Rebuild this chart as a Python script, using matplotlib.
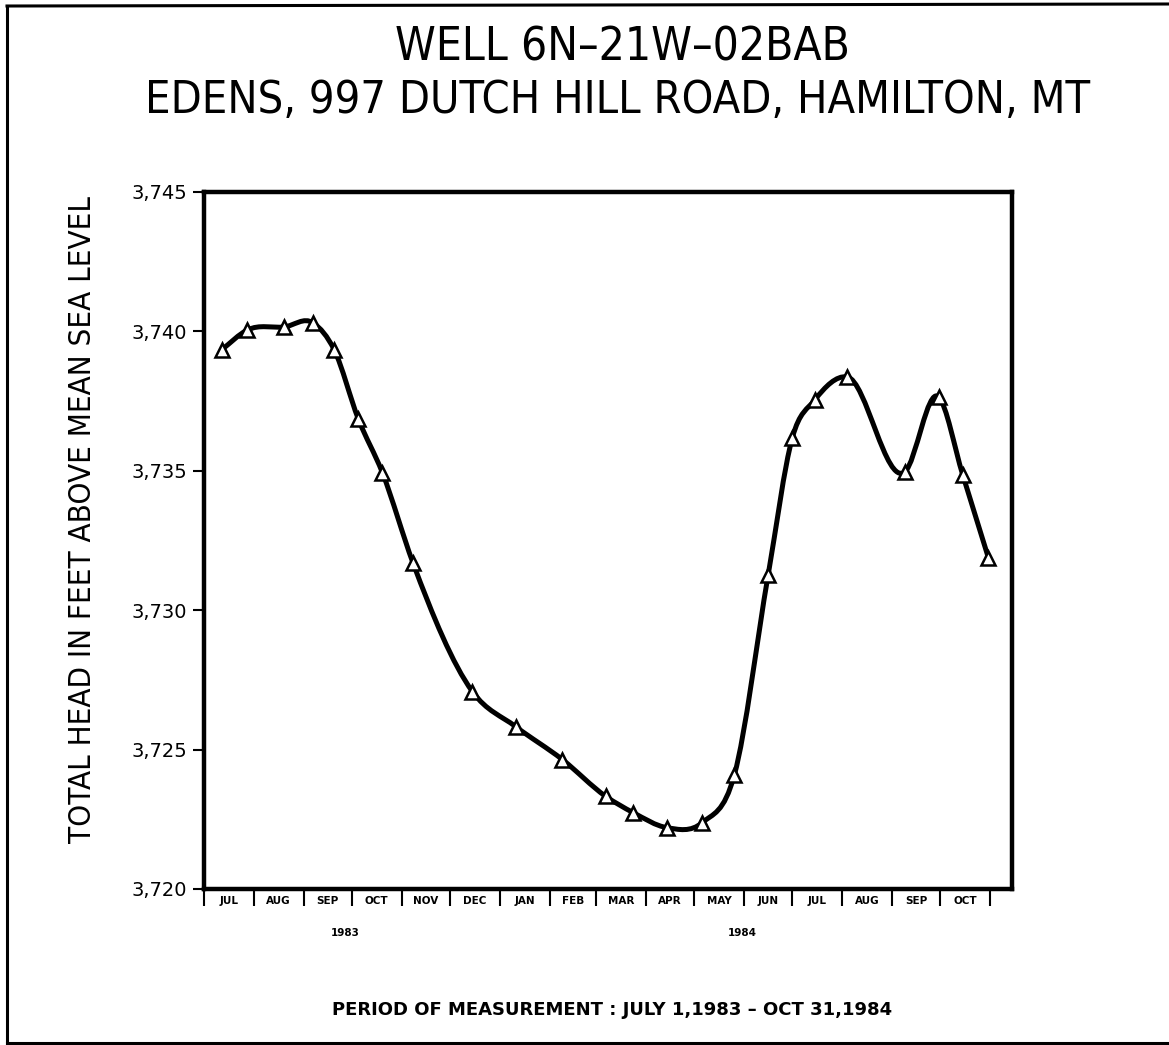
import numpy as np
import pandas as pd
import matplotlib
matplotlib.use('Agg')
import matplotlib.pyplot as plt
from matplotlib.path import Path
from matplotlib.patches import PathPatch
from matplotlib.lines import Line2D
from matplotlib.ticker import FixedLocator, FuncFormatter, NullFormatter
import matplotlib.transforms as mtransforms
from matplotlib import font_manager

# Hydrograph data
dates = ['1983-07-12', '1983-07-28', '1983-08-20', '1983-09-07', '1983-09-20',
         '1983-10-05', '1983-10-20', '1983-11-08', '1983-12-15', '1984-01-11',
         '1984-02-09', '1984-03-07', '1984-03-24', '1984-04-14', '1984-05-06',
         '1984-05-26', '1984-06-16', '1984-07-01', '1984-07-15', '1984-08-04',
         '1984-09-09', '1984-09-30', '1984-10-15', '1984-10-31']
head = [3739.34, 3740.05, 3740.16, 3740.30, 3739.34, 3736.86, 3734.93, 3731.70,
        3727.08, 3725.82, 3724.64, 3723.32, 3722.74, 3722.20, 3722.38, 3724.10,
        3731.27, 3736.18, 3737.54, 3738.37, 3734.96, 3737.65, 3734.86, 3731.88]

month_labels = ['JUL', 'AUG', 'SEP', 'OCT', 'NOV', 'DEC', 'JAN', 'FEB',
                'MAR', 'APR', 'MAY', 'JUN', 'JUL', 'AUG', 'SEP', 'OCT']
year_labels = ['1983', '1984']
year_dates = ['1983-09-27', '1984-05-31']
y_ticks = [3720, 3725, 3730, 3735, 3740, 3745]

title1 = 'WELL 6N\u201321W\u201302BAB'
title2 = 'EDENS, 997 DUTCH HILL ROAD, HAMILTON, MT'
ylabel = 'TOTAL HEAD IN FEET ABOVE MEAN SEA LEVEL'
footer = 'PERIOD OF MEASUREMENT : JULY 1,1983 \u2013 OCT 31,1984'

# use a condensed face for the lettering if one is installed
stretch = 'normal'
for f in font_manager.fontManager.ttflist:
    if f.name == 'DejaVu Sans' and f.stretch in ('condensed', 'semi-condensed'):
        stretch = 'condensed'
        break

start = pd.Timestamp('1983-07-01')
x = (pd.to_datetime(dates) - start).days.values.astype(float)
y = np.array(head)

month_starts = (pd.date_range('1983-07-01', '1984-11-01', freq='MS') - start).days.values.astype(float)
month_mids = (month_starts[:-1] + month_starts[1:]) / 2

fig = plt.figure(figsize=(11.69, 10.45), dpi=100)
ax = fig.add_axes([0.1745, 0.1493, 0.6912, 0.6670])

# smooth curve through the measurements (cubic hermite as bezier segments)
d = np.diff(y) / np.diff(x)
hx = np.diff(x)
m = np.empty_like(y)
m[1:-1] = (d[:-1] * hx[1:] + d[1:] * hx[:-1]) / (hx[1:] + hx[:-1])
m[0] = d[0]
m[-1] = d[-1]
verts = [(x[0], y[0])]
codes = [Path.MOVETO]
for i in range(len(x) - 1):
    h = hx[i]
    verts += [(x[i] + h / 3, y[i] + m[i] * h / 3),
              (x[i + 1] - h / 3, y[i + 1] - m[i + 1] * h / 3),
              (x[i + 1], y[i + 1])]
    codes += [Path.CURVE4] * 3
curve = PathPatch(Path(verts, codes), fill=False, lw=3.6, edgecolor='black',
                  capstyle='round', joinstyle='round', zorder=2)
ax.add_patch(curve)

ax.plot(x, y, '^', mfc='white', mec='black', ms=10, mew=1.8, zorder=3)

ax.set_xlim(0, month_starts[-1] * 808 / 786)
ax.set_ylim(3720, 3745)

for s in ax.spines.values():
    s.set_linewidth(3.2)

ax.xaxis.set_major_locator(FixedLocator(month_starts))
ax.xaxis.set_major_formatter(NullFormatter())
ax.xaxis.set_minor_locator(FixedLocator(month_mids))
ax.xaxis.set_minor_formatter(FuncFormatter(lambda v, p: month_labels[p] if p < len(month_labels) else ''))
ax.tick_params(axis='x', which='major', direction='out', length=12, width=1.5)
ax.tick_params(axis='x', which='minor', length=0, pad=5, labelsize=7.5)
for t in ax.xaxis.get_minorticklabels():
    t.set_fontweight('bold')

ax.set_yticks(y_ticks)
ax.yaxis.set_major_formatter(FuncFormatter(lambda v, p: f'{v:,.0f}'))
ax.tick_params(axis='y', direction='out', length=8, width=1.5, pad=4, labelsize=14)

trans = mtransforms.blended_transform_factory(ax.transData, ax.transAxes)
for lab, dt in zip(year_labels, year_dates):
    xv = (pd.Timestamp(dt) - start).days
    ax.text(xv, -0.063, lab, transform=trans, ha='center', va='center',
            fontsize=7.5, fontweight='bold')

t1 = fig.text(622 / 1169, 1 - 48 / 1045, title1, ha='center', va='center',
              fontsize=36, fontstretch=stretch)
t2 = fig.text(618 / 1169, 1 - 101 / 1045, title2, ha='center', va='center',
              fontsize=36, fontstretch=stretch)
t3 = fig.text(83 / 1169, 1 - 520 / 1045, ylabel, ha='center', va='center',
              rotation=90, fontsize=26, fontstretch=stretch)
fig.text(612 / 1169, 1 - 1010 / 1045, footer, ha='center', va='center',
         fontsize=13, fontweight='bold')

# shrink the big lettering so each line spans the same width as on the sheet
fig.canvas.draw()
r = fig.canvas.get_renderer()
for t, target, vertical in [(t1, 455, False), (t2, 943, False), (t3, 650, True)]:
    bb = t.get_window_extent(r)
    size = bb.height if vertical else bb.width
    t.set_fontsize(min(t.get_fontsize(), t.get_fontsize() * target / size))

# page frame of the scanned sheet
fig.add_artist(Line2D([7 / 1169, 7 / 1169], [1 - 6 / 1045, 1 - 1043 / 1045], color='black', lw=2.2))
fig.add_artist(Line2D([7 / 1169, 1.0], [1 - 6 / 1045, 1 - 4 / 1045], color='black', lw=2.2))
fig.add_artist(Line2D([7 / 1169, 1.0], [1 - 1043 / 1045, 1 - 1043 / 1045], color='black', lw=2.2))

fig.savefig('out.png', dpi=100)
